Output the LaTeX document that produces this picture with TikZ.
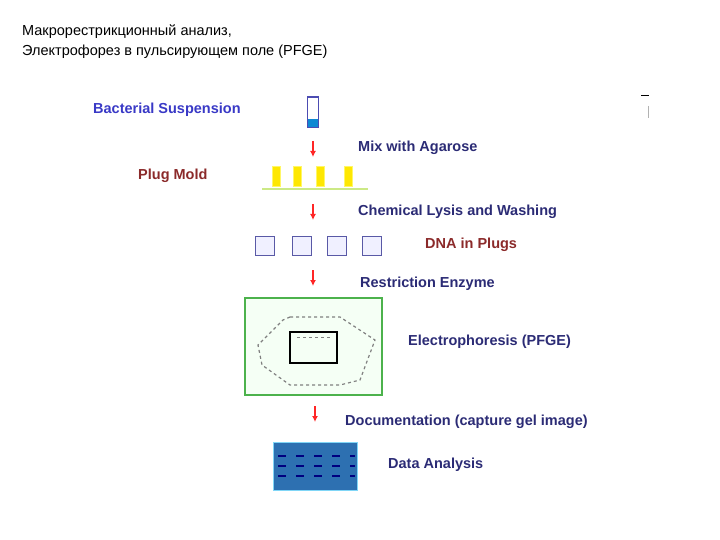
\documentclass[tikz,border=0pt]{standalone}
\usepackage{fontspec}
\setmainfont{Liberation Sans}
\usetikzlibrary{arrows.meta}
\begin{document}
\begin{tikzpicture}[x=1pt,y=-1pt,
  lbl/.style={anchor=west,font=\bfseries\fontsize{14.5}{16}\selectfont,text=navy,inner sep=0},
  ttl/.style={anchor=west,font=\fontsize{14.5}{16}\selectfont,inner sep=0},
  arr/.style={-{Latex[length=6pt,width=6pt]},red!85,line width=1.6pt},
  plug/.style={fill=yellow!90!orange,draw=yellow!60,minimum width=8pt,minimum height=20pt,inner sep=0},
  sq/.style={draw=gray!70!blue,fill=blue!6,line width=1.2pt,minimum size=19pt,inner sep=0}]
\definecolor{navy}{HTML}{2B2B75}
\definecolor{dred}{HTML}{8B2A2A}
\useasboundingbox (0,0) rectangle (720,540);
\node[ttl] (t1) at (22,32) {Макрорестрикционный анализ,};
\node[ttl] (t2) at (22,52) {Электрофорез в пульсирующем поле (PFGE)};
\node[draw=gray!60!blue,line width=1.2pt,minimum width=11pt,minimum height=30pt,inner sep=0] (tube) at (313,112) {};
\fill[cyan!70!blue] (308,119) rectangle (318,127);
\node[lbl,text=blue!55!gray] (bs) at (93,110) {Bacterial Suspension};
\coordinate (a1s) at (313,141); \coordinate (a1e) at (313,157);
\draw[arr] (a1s) -- (a1e);
\node[lbl] (mix) at (358,148) {Mix with Agarose};
\node[lbl,text=dred] (pm) at (138,176) {Plug Mold};
\foreach \x/\n in {276/p1,297/p2,320/p3,348/p4} \node[plug] (\n) at (\x,176) {};
\draw[yellow!60!green!50,line width=1.5pt] (262,189) -- (368,189);
\coordinate (a2s) at (313,204); \coordinate (a2e) at (313,220);
\draw[arr] (a2s) -- (a2e);
\node[lbl] (lys) at (358,212) {Chemical Lysis and Washing};
\foreach \x/\n in {265/s1,302/s2,337/s3,372/s4} \node[sq] (\n) at (\x,246) {};
\node[lbl,text=dred] (dna) at (425,245) {DNA in Plugs};
\coordinate (a3s) at (313,270); \coordinate (a3e) at (313,286);
\draw[arr] (a3s) -- (a3e);
\node[lbl] (re) at (360,284) {Restriction Enzyme};
\node[draw=green!40!gray,line width=2pt,fill=green!4,minimum width=137pt,minimum height=97pt,inner sep=0] (gel) at (313.5,346.5) {};
\draw[gray,dashed,line width=1.2pt] (290,317) -- (340,317) -- (375,340) -- (360,380) -- (340,385) -- (290,385) -- (262,365) -- (258,345) -- (283,320) -- cycle;
\node[draw=black,line width=2.5pt,minimum width=47pt,minimum height=31pt,inner sep=0] (well) at (313.5,347.5) {};
\draw[gray,dashed] (297,337) -- (332,337);
\node[lbl] (ep) at (408,342) {Electrophoresis (PFGE)};
\coordinate (a4s) at (315,406); \coordinate (a4e) at (315,422);
\draw[arr] (a4s) -- (a4e);
\node[lbl] (doc) at (345,422) {Documentation (capture gel image)};
\node[fill=cyan!55!blue!85!black,draw=cyan!50,line width=1pt,minimum width=84pt,minimum height=48pt,inner sep=0] (da) at (315,466) {};
\foreach \y in {456,466,476} \draw[blue!50!black,dash pattern=on 8pt off 10pt,line width=2pt] (278,\y) -- (355,\y);
\node[lbl] (dan) at (388,465) {Data Analysis};
\draw[black,line width=1pt] (641,96) -- (649,96);
\draw[gray!60,line width=1pt] (648,106) -- (648,118);
\end{tikzpicture}
\end{document}
